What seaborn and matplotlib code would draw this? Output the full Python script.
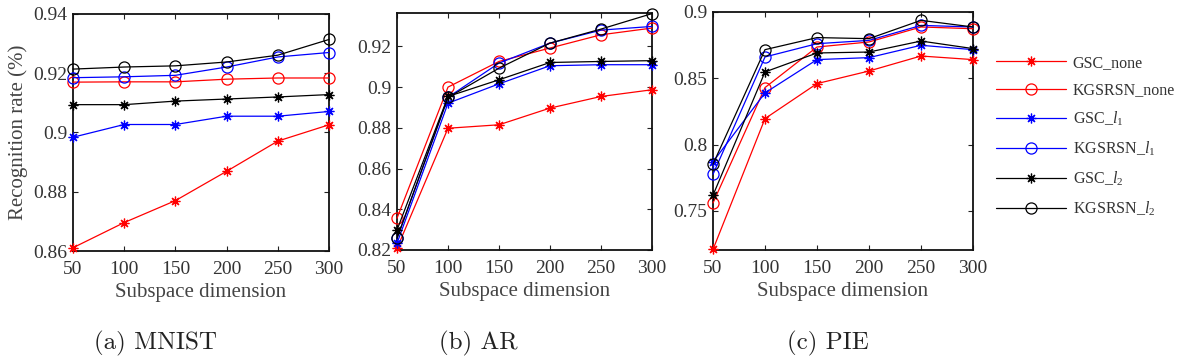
import numpy as np
import pandas as pd
import matplotlib
matplotlib.use("Agg")
import matplotlib.pyplot as plt
import seaborn as sns
from matplotlib.ticker import FuncFormatter

# ---------------- data ----------------
dims = [50, 100, 150, 200, 250, 300]
methods = ["GSC_none", "KGSRSN_none", "GSC_l1", "KGSRSN_l1", "GSC_l2", "KGSRSN_l2"]
legend_labels = ["GSC_none", "KGSRSN_none", r"GSC_$l_1$", r"KGSRSN_$l_1$",
                 r"GSC_$l_2$", r"KGSRSN_$l_2$"]

# (a) MNIST
mnist_gsc_none = [0.8611, 0.8696, 0.8770, 0.8869, 0.8971, 0.9026]
mnist_kgsrsn_none = [0.9170, 0.9171, 0.9171, 0.9180, 0.9184, 0.9184]
mnist_gsc_l1 = [0.8984, 0.9027, 0.9027, 0.9055, 0.9055, 0.9071]
mnist_kgsrsn_l1 = [0.9185, 0.9188, 0.9193, 0.9221, 0.9255, 0.9270]
mnist_gsc_l2 = [0.9094, 0.9094, 0.9106, 0.9113, 0.9120, 0.9128]
mnist_kgsrsn_l2 = [0.9214, 0.9221, 0.9225, 0.9238, 0.9261, 0.9314]

# (b) AR
ar_gsc_none = [0.8208, 0.8798, 0.8815, 0.8897, 0.8954, 0.8987]
ar_kgsrsn_none = [0.8356, 0.9000, 0.9126, 0.9192, 0.9257, 0.9290]
ar_gsc_l1 = [0.8233, 0.8921, 0.9016, 0.9105, 0.9110, 0.9110]
ar_kgsrsn_l1 = [0.8257, 0.8950, 0.9118, 0.9216, 0.9280, 0.9298]
ar_gsc_l2 = [0.8298, 0.8954, 0.9036, 0.9121, 0.9126, 0.9130]
ar_kgsrsn_l2 = [0.8257, 0.8949, 0.9093, 0.9216, 0.9285, 0.9361]

# (c) PIE
pie_gsc_none = [0.7209, 0.8196, 0.8460, 0.8555, 0.8668, 0.8641]
pie_kgsrsn_none = [0.7560, 0.8430, 0.8736, 0.8774, 0.8887, 0.8874]
pie_gsc_l1 = [0.7870, 0.8390, 0.8641, 0.8656, 0.8749, 0.8716]
pie_kgsrsn_l1 = [0.7776, 0.8661, 0.8761, 0.8786, 0.8899, 0.8887]
pie_gsc_l2 = [0.7618, 0.8548, 0.8691, 0.8698, 0.8781, 0.8724]
pie_kgsrsn_l2 = [0.7852, 0.8716, 0.8807, 0.8799, 0.8937, 0.8887]

mnist_yticks = [0.86, 0.88, 0.90, 0.92, 0.94]
ar_yticks = [0.82, 0.84, 0.86, 0.88, 0.90, 0.92]
pie_yticks = [0.75, 0.80, 0.85, 0.90]
xticks = [50, 100, 150, 200, 250, 300]
captions = ["(a) MNIST", "(b) AR", "(c) PIE"]

# ---------------- style ----------------
sns.set_theme(style="ticks")
plt.rcParams["font.family"] = ["Liberation Serif", "DejaVu Serif"]
plt.rcParams["mathtext.fontset"] = "custom"
plt.rcParams["mathtext.rm"] = "Liberation Serif"
plt.rcParams["mathtext.it"] = "Liberation Serif:italic"

colors = {"GSC_none": "#ff0000", "KGSRSN_none": "#ff0000",
          "GSC_l1": "#0000ff", "KGSRSN_l1": "#0000ff",
          "GSC_l2": "#000000", "KGSRSN_l2": "#000000"}
markers = {"GSC_none": (8, 2, 0), "KGSRSN_none": "o",
           "GSC_l1": (8, 2, 0), "KGSRSN_l1": "o",
           "GSC_l2": (8, 2, 0), "KGSRSN_l2": "o"}

panels = [
    ([mnist_gsc_none, mnist_kgsrsn_none, mnist_gsc_l1, mnist_kgsrsn_l1, mnist_gsc_l2, mnist_kgsrsn_l2],
     mnist_yticks, (0.86, 0.94)),
    ([ar_gsc_none, ar_kgsrsn_none, ar_gsc_l1, ar_kgsrsn_l1, ar_gsc_l2, ar_kgsrsn_l2],
     ar_yticks, (0.82, 0.9364)),
    ([pie_gsc_none, pie_kgsrsn_none, pie_gsc_l1, pie_kgsrsn_l1, pie_gsc_l2, pie_kgsrsn_l2],
     pie_yticks, (0.7205, 0.90)),
]

W, H = 1182, 362
fig = plt.figure(figsize=(W / 100, H / 100), dpi=100)
boxes = [(73, 329, 14, 251), (397, 652, 13, 250), (713, 973, 12, 250)]
caption_x = [155, 478, 828]

fmt = FuncFormatter(lambda v, p: ("%g" % round(v, 4)))

for i, ((series, yt, ylim), (l, r, t, b)) in enumerate(zip(panels, boxes)):
    ax = fig.add_axes([l / W, 1 - b / H, (r - l) / W, (b - t) / H])
    for m, vals in zip(methods, series):
        df = pd.DataFrame({"dim": dims, "rate": vals})
        mk = markers[m]
        sns.lineplot(data=df, x="dim", y="rate", ax=ax, color=colors[m],
                     marker=mk, markersize=8.0 if mk == "o" else 7.0,
                     markerfacecolor="none", markeredgecolor=colors[m],
                     markeredgewidth=0.9, linewidth=0.9, label=m, legend=False,
                     clip_on=False, zorder=3)
    ax.set_xlim(50, 300)
    ax.set_ylim(*ylim)
    ax.set_xticks(xticks)
    ax.set_yticks(yt)
    ax.yaxis.set_major_formatter(fmt)
    ax.tick_params(direction="in", length=3.5, width=0.8, top=True, right=True,
                   labelsize=14, colors="#222222", labelcolor="#333333")
    ax.tick_params(axis="x", pad=7)
    ax.tick_params(axis="y", pad=4)
    for s in ax.spines.values():
        s.set_visible(True)
        s.set_linewidth(1.3)
        s.set_color("#111111")
    ax.set_xlabel("Subspace dimension", fontsize=15, color="#444444", labelpad=4)
    if i == 0:
        ax.set_ylabel("Recognition rate (%)", fontsize=15, color="#444444", labelpad=4)
    else:
        ax.set_ylabel("")
    fig.text(caption_x[i] / W, 1 - 343 / H, captions[i], family="cmr10",
             fontsize=18, ha="center", va="center", color="#222222")
    last_ax = ax

handles = last_ax.get_lines()[:6]
leg = fig.legend(handles, legend_labels, loc="upper left",
                 bbox_to_anchor=(996 / W, 1 - 55 / H), frameon=False,
                 borderpad=0, borderaxespad=0, handlelength=4.4,
                 handletextpad=0.4, labelspacing=0.72, numpoints=1,
                 fontsize=11.5)
for txt in leg.get_texts():
    txt.set_color("#333333")

fig.savefig("out.png", dpi=100)
